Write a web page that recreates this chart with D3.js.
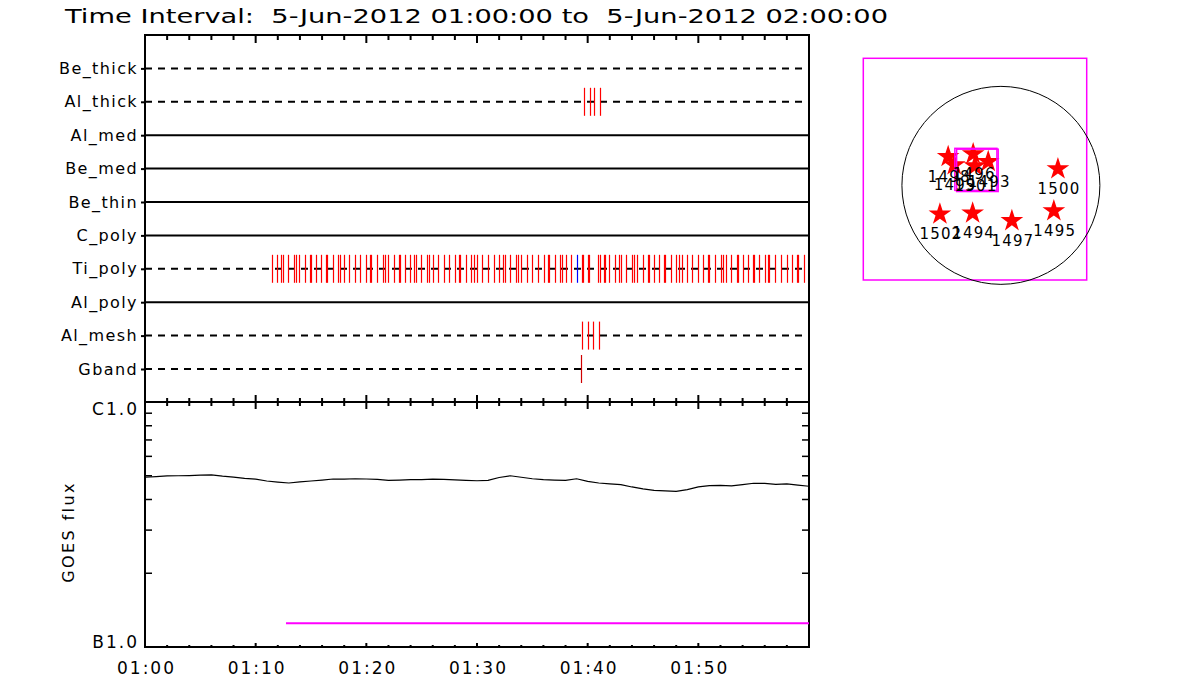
<!DOCTYPE html>
<html>
<head>
<meta charset="utf-8">
<script src="https://cdn.jsdelivr.net/npm/d3@7"></script>
<style>
  body { margin: 0; background: #fff; }
  svg text { font-family: "DejaVu Sans", sans-serif; fill: #000; }
</style>
</head>
<body>
<div class="main"></div>
<script>
// Detector rows (top to bottom) and whether their baseline is dashed
var rows   = ['Be_thick', 'Al_thick', 'Al_med', 'Be_med', 'Be_thin', 'C_poly', 'Ti_poly', 'Al_poly', 'Al_mesh', 'Gband'];
var dashed = ['Be_thick', 'Al_thick', 'Ti_poly', 'Al_mesh', 'Gband'];

// Event times, minutes after 01:00
var alThick = [39.69, 40.24, 40.60, 41.14];
var alMesh  = [39.51, 40.06, 40.51, 41.05];
var gband   = [39.42];
var tiPolyBlue = [39.06];
var tiPoly  = [11.50, 11.95, 12.32, 12.50, 12.95, 13.49, 13.67, 13.94, 14.48, 14.94, 15.03, 15.48,
               15.93, 16.38, 16.47, 17.01, 17.47, 17.65, 18.01, 18.46, 19.00, 19.45, 20.00, 20.36,
               20.45, 20.99, 21.53, 21.71, 21.98, 22.53, 22.98, 23.07, 23.52, 23.97, 24.33, 24.51,
               24.97, 25.51, 25.69, 26.05, 26.50, 27.04, 27.50, 28.04, 28.40, 28.49, 29.03, 29.48,
               29.76, 30.03, 30.48, 31.02, 31.56, 32.01, 32.38, 32.56, 33.01, 33.55, 33.73, 34.00,
               34.54, 35.00, 35.54, 36.08, 36.44, 36.53, 37.07, 37.53, 37.71, 38.07, 38.52, 39.51,
               39.60, 40.06, 40.15, 40.96, 41.14, 41.50, 41.59, 41.95, 42.50, 42.86, 43.04, 43.49,
               44.03, 44.21, 44.48, 45.03, 45.48, 45.57, 46.02, 46.47, 46.92, 47.01, 47.56, 48.01,
               48.28, 48.55, 49.00, 49.45, 50.00, 50.45, 50.90, 50.99, 51.53, 52.08, 52.26, 52.53,
               52.98, 53.52, 53.61, 54.06, 54.51, 54.96, 55.05, 55.51, 56.05, 56.32, 56.41, 56.95,
               57.50, 58.04, 58.49, 58.94, 59.03, 59.57];

// GOES flux (units of 1e-7 W/m2), read about every minute from 01:00
var goesMin  = d3.range(0, 61);
var goesFlux = [4.93, 4.96, 4.99, 5.00, 5.01, 5.03, 5.04, 4.98, 4.94, 4.88, 4.84, 4.76, 4.71, 4.67, 4.72,
                4.76, 4.80, 4.85, 4.84, 4.86, 4.85, 4.83, 4.79, 4.80, 4.82, 4.82, 4.84, 4.83, 4.81, 4.79,
                4.77, 4.79, 4.92, 5.00, 4.93, 4.86, 4.82, 4.80, 4.79, 4.86, 4.74, 4.67, 4.63, 4.60, 4.50,
                4.42, 4.36, 4.34, 4.32, 4.39, 4.50, 4.56, 4.57, 4.55, 4.60, 4.66, 4.65, 4.61, 4.63, 4.58, 4.53];
var threshold = {start: 12.74, end: 60, flux: 1.25};

var timeTicks  = [0, 10, 20, 30, 40, 50];
var timeLabels = ['01:00', '01:10', '01:20', '01:30', '01:40', '01:50'];

// Flare positions on the disk (arcsec)
var flareIds = [1498, 1499, 1496, 1493, 1501, 1500, 1502, 1494, 1497, 1495];
var flareX   = [-504, -446, -265, -121, -248, 545, -583, -270, 105, 506];
var flareY   = [275, 196, 301, 227, 186, 158, -275, -266, -339, -244];
var sunRadius = 946;
var fovBoxes = [[-440, -38, -48, 354], [-423, -26, -59, 346]];  // x0,x1,y0,y1

var title = 'Time Interval:  5-Jun-2012 01:00:00 to  5-Jun-2012 02:00:00';

var svg = d3.select('.main').append('svg').attr('width', 1200).attr('height', 700);

// Escalas
var x = d3.scaleLinear().domain([0, 60]).range([145, 809]);
var yRow = d3.scalePoint().domain(rows).range([68.4, 369]);
var yFlux = d3.scaleLog().domain([1, 10]).range([647, 402]);

svg.append('text').attr('x', 65).attr('y', 23)
    .attr('font-size', 19).attr('textLength', 823).attr('lengthAdjust', 'spacingAndGlyphs')
    .style('white-space', 'pre')
    .text(title);

// ---- painel superior
var panel = svg.append('g');
panel.selectAll('.row').data(rows).enter().append('line')
    .attr('x1', x(0)).attr('x2', x(60))
    .attr('y1', d => yRow(d)).attr('y2', d => yRow(d))
    .attr('stroke', '#000').attr('stroke-width', 2)
    .attr('stroke-dasharray', d => dashed.indexOf(d) >= 0 ? '7,6' : null);

function events(list, row, color) {
    panel.append('g').selectAll('line').data(list).enter().append('line')
        .attr('x1', d => Math.round(x(d)) + 0.5).attr('x2', d => Math.round(x(d)) + 0.5)
        .attr('y1', yRow(row) - 14).attr('y2', yRow(row) + 14)
        .attr('stroke', color).attr('stroke-width', 1.2);
}
events(alThick, 'Al_thick', '#ff0000');
events(tiPoly, 'Ti_poly', '#ff0000');
events(tiPolyBlue, 'Ti_poly', '#0000ff');
events(alMesh, 'Al_mesh', '#ff0000');
events(gband, 'Gband', '#d00000');

var rowAxis = panel.append('g').attr('transform', 'translate(145,0)')
    .call(d3.axisLeft(yRow).tickSize(4).tickPadding(3));
rowAxis.select('.domain').remove();
rowAxis.selectAll('line').attr('stroke-width', 2);
rowAxis.selectAll('text').attr('font-size', 16).attr('font-family', '"DejaVu Sans", sans-serif')
    .attr('letter-spacing', 1.4).attr('fill', '#000');

panel.append('rect').attr('x', 145).attr('y', 35).attr('width', 664).attr('height', 367)
    .attr('fill', 'none').attr('stroke', '#000').attr('stroke-width', 2);

var minor = d3.range(0, 61, 2);
function timeTickMarks(g, y0, dir, majLen, minLen) {
    g.selectAll(null).data(minor).enter().append('line')
        .attr('x1', d => x(d)).attr('x2', d => x(d))
        .attr('y1', y0).attr('y2', d => y0 + dir * (d % 10 === 0 ? majLen : minLen))
        .attr('stroke', '#000').attr('stroke-width', 2);
}
timeTickMarks(panel, 35, 1, 8, 5);
timeTickMarks(panel, 402, -1, 7, 4);

// ---- painel GOES
var bot = svg.append('g');
bot.append('rect').attr('x', 145).attr('y', 402).attr('width', 664).attr('height', 245)
    .attr('fill', 'none').attr('stroke', '#000').attr('stroke-width', 2);
timeTickMarks(bot, 402, 1, 7, 4);
timeTickMarks(bot, 647, -1, 4, 2);

var fluxMinor = d3.range(2, 10);
bot.selectAll('.fl').data(fluxMinor).enter().append('line')
    .attr('x1', 145).attr('x2', 152).attr('y1', d => yFlux(d)).attr('y2', d => yFlux(d))
    .attr('stroke', '#000').attr('stroke-width', 1.5);
bot.selectAll('.fr').data(fluxMinor).enter().append('line')
    .attr('x1', 809).attr('x2', 802).attr('y1', d => yFlux(d)).attr('y2', d => yFlux(d))
    .attr('stroke', '#000').attr('stroke-width', 1.5);

bot.append('text').attr('x', 139).attr('y', 415).attr('text-anchor', 'end').attr('font-size', 17)
    .attr('letter-spacing', 2).text('C1.0');
bot.append('text').attr('x', 139).attr('y', 648).attr('text-anchor', 'end').attr('font-size', 17)
    .attr('letter-spacing', 2).text('B1.0');
bot.append('text').attr('transform', 'translate(74,532) rotate(-90)').attr('text-anchor', 'middle')
    .attr('font-size', 16).attr('letter-spacing', 2.4).text('GOES flux');

var xAxis = bot.append('g').attr('transform', 'translate(0,647)')
    .call(d3.axisBottom(x).tickValues(timeTicks).tickFormat((d, i) => timeLabels[i]).tickSize(0).tickPadding(15));
xAxis.select('.domain').remove();
xAxis.selectAll('text').attr('font-size', 17).attr('font-family', '"DejaVu Sans", sans-serif')
    .attr('letter-spacing', 2).attr('dx', 1).attr('fill', '#000');

bot.append('path')
    .datum(goesMin.map((m, i) => [m, goesFlux[i]]))
    .attr('d', d3.line().x(d => x(d[0])).y(d => yFlux(d[1])))
    .attr('fill', 'none').attr('stroke', '#000').attr('stroke-width', 1.2);

bot.append('line')
    .attr('x1', x(threshold.start)).attr('x2', x(threshold.end))
    .attr('y1', yFlux(threshold.flux)).attr('y2', yFlux(threshold.flux))
    .attr('stroke', '#ff00ff').attr('stroke-width', 2);

// ---- mapa do disco
var sx = d3.scaleLinear().domain([-1315, 820]).range([863.3, 1086.7]);
var sy = d3.scaleLinear().domain([-905, 1215]).range([280, 58.3]);
var map = svg.append('g');
map.append('rect').attr('x', sx(-1315)).attr('y', sy(1215))
    .attr('width', sx(820) - sx(-1315)).attr('height', sy(-905) - sy(1215))
    .attr('fill', 'none').attr('stroke', '#ff00ff').attr('stroke-width', 1.5);
map.append('circle').attr('cx', sx(0)).attr('cy', sy(0)).attr('r', sx(sunRadius) - sx(0))
    .attr('fill', 'none').attr('stroke', '#000').attr('stroke-width', 1);

var flares = flareIds.map((id, i) => ({id: id, x: flareX[i], y: flareY[i]}));
map.selectAll('.star').data(flares).enter().append('path')
    .attr('d', d3.symbol(d3.symbolStar, 160))
    .attr('transform', d => 'translate(' + sx(d.x) + ',' + sy(d.y) + ')')
    .attr('fill', '#ff0000');
map.selectAll('.fov').data(fovBoxes).enter().append('rect')
    .attr('x', d => sx(d[0])).attr('y', d => sy(d[3]))
    .attr('width', d => sx(d[1]) - sx(d[0])).attr('height', d => sy(d[2]) - sy(d[3]))
    .attr('fill', 'none').attr('stroke', '#ff00ff').attr('stroke-width', 1.5);
map.selectAll('.lbl').data(flares).enter().append('text')
    .attr('x', d => sx(d.x) + 1).attr('y', d => sy(d.y) + 25)
    .attr('text-anchor', 'middle').attr('font-size', 15).attr('letter-spacing', 1.2)
    .text(d => d.id);
</script>
</body>
</html>
